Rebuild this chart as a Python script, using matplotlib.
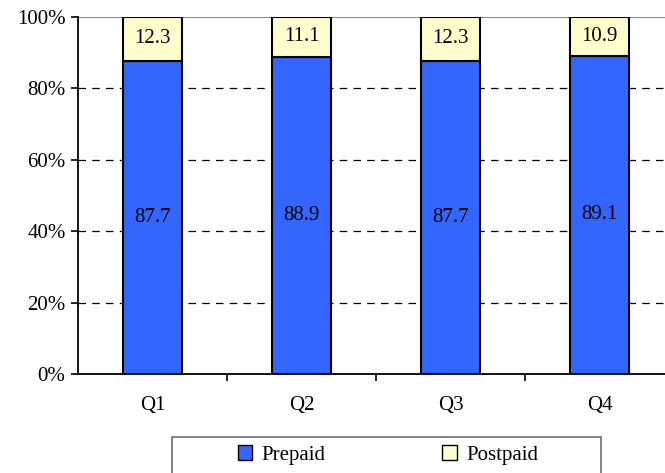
import matplotlib
matplotlib.use("Agg")
import matplotlib.pyplot as plt
from matplotlib.patches import Patch, Rectangle

plt.rcParams["font.family"] = ["Liberation Serif", "DejaVu Serif"]

quarters = ["Q1", "Q2", "Q3", "Q4"]
prepaid = [87.7, 88.9, 87.7, 89.1]
postpaid = [12.3, 11.1, 12.3, 10.9]
yticks = [0, 20, 40, 60, 80, 100]

C_PRE = "#3366FF"
C_POST = "#FFFFCC"
FS = 15

fig = plt.figure(figsize=(6.65, 4.73), dpi=100)
ax = fig.add_axes([78 / 665, 1 - 374 / 473, 587 / 665, 357 / 473])

x = list(range(len(quarters)))
w = 0.4
ax.bar(x, prepaid, w, color=C_PRE, edgecolor="black", lw=1.5, zorder=3)
ax.bar(x, postpaid, w, bottom=prepaid, color=C_POST, edgecolor="black", lw=1.5, zorder=3)

for i in x:
    ax.text(i, prepaid[i] / 2, f"{prepaid[i]:.1f}", ha="center", va="center", fontsize=FS, zorder=4)
    ax.text(i, prepaid[i] + postpaid[i] / 2, f"{postpaid[i]:.1f}", ha="center", va="center",
            fontsize=FS, zorder=4)

ax.set_ylim(0, 100)
ax.set_xlim(-0.5, -0.5 + 587 / 149)
ax.set_yticks(yticks)
ax.set_yticklabels([f"{v}%" for v in yticks], fontsize=FS)
for v in yticks[1:-1]:
    ax.axhline(v, color="black", lw=0.9, ls=(0, (6, 5)), zorder=1)
ax.axhline(100, color="#888888", lw=1.5, zorder=1)

ax.set_xticks([0.5, 1.5, 2.5])
ax.set_xticklabels([])
ax.set_xticks(x, minor=True)
ax.set_xticklabels(quarters, minor=True, fontsize=FS)
ax.tick_params(axis="x", which="minor", length=0, pad=16)
ax.tick_params(axis="x", which="major", length=5, width=1.2, direction="out")
ax.tick_params(axis="y", length=5, width=1.2, direction="out", pad=4)

for s in ("top", "right"):
    ax.spines[s].set_visible(False)
for s in ("left", "bottom"):
    ax.spines[s].set_color("black")
    ax.spines[s].set_linewidth(1.3)

# legend frame runs past the bottom edge of the picture
fig.patches.append(Rectangle((172 / 665, -0.05), 429 / 665, 0.05 + 36 / 473,
                             transform=fig.transFigure, facecolor="white",
                             edgecolor="#777777", lw=1.3))
handles = [Patch(facecolor=C_PRE, edgecolor="black", label="Prepaid"),
           Patch(facecolor=C_POST, edgecolor="black", label="Postpaid")]
fig.legend(handles=handles, ncol=2, loc="center",
           bbox_to_anchor=(388 / 665, 1 - 455 / 473),
           frameon=False, fontsize=FS, handlelength=0.7, handleheight=0.7,
           handletextpad=0.45, columnspacing=5.6, borderpad=0)

fig.savefig("out.png", dpi=100)
